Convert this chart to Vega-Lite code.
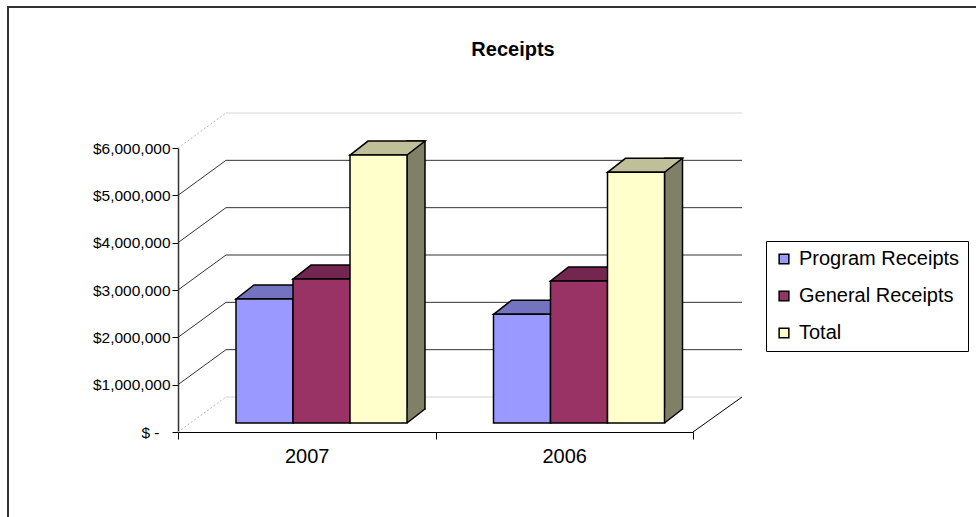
{
  "$schema": "https://vega.github.io/schema/vega-lite/v6.json",
  "autosize": "none",
  "width": 971,
  "height": 513,
  "padding": {"left": 8, "top": 7, "right": -3, "bottom": -3},
  "background": "white",
  "title": {"text": "Receipts", "fontSize": 20, "fontWeight": "bold", "font": "Liberation Sans", "color": "#000", "offset": -69, "baseline": "alphabetic", "anchor": "middle", "frame": "group", "dx": 19.5},
  "config": {
    "font": "Liberation Sans",
    "view": {"stroke": "#333", "strokeWidth": 2},
    "axis": {"labelColor": "#000", "labelFont": "Liberation Sans", "grid": false},
    "legend": {"orient": "none", "legendX": 758, "legendY": 234, "strokeColor": "#000", "strokeWidth": 1, "fillColor": "white", "padding": 8, "labelFontSize": 20, "labelLimit": 400, "labelFont": "Liberation Sans", "labelColor": "#000", "labelOffset": 5, "symbolType": "square", "symbolSize": 95, "symbolStrokeColor": "#000", "symbolStrokeWidth": 1.5, "rowPadding": 17}
  },
  "datasets": {
    "bars": [
      {"year": "2007", "series": "Program Receipts", "value": 2620000},
      {"year": "2007", "series": "General Receipts", "value": 3040000},
      {"year": "2007", "series": "Total", "value": 5660000},
      {"year": "2006", "series": "Program Receipts", "value": 2295000},
      {"year": "2006", "series": "General Receipts", "value": 3000000},
      {"year": "2006", "series": "Total", "value": 5295000}
    ],
    "grid": [{"v": 0}, {"v": 1000000}, {"v": 2000000}, {"v": 3000000}, {"v": 4000000}, {"v": 5000000}, {"v": 6000000}]
  },
  "resolve": {"scale": {"fill": "independent", "xOffset": "independent"}},
  "layer": [
    {
      "data": {"name": "grid"},
      "transform": [{"filter": "datum.v > 0 && datum.v < 6000000"}],
      "mark": {"type": "point", "shape": "M0,0L48,-35L564,-35", "size": 4, "filled": false, "fill": "transparent", "stroke": "#333", "strokeWidth": 1, "opacity": 1},
      "encoding": {
        "x": {"datum": "2007", "type": "nominal", "bandPosition": 0, "scale": {"domain": ["2007", "2006"], "range": [170, 685], "paddingInner": 0, "paddingOuter": 0}, "axis": {"title": null}},
        "y": {"field": "v", "type": "quantitative", "scale": {"domain": [0, 6000000], "range": [425, 141], "nice": false, "zero": true}, "axis": {"title": null}}
      }
    },
    {
      "data": {"name": "grid"},
      "transform": [{"filter": "datum.v == 0 || datum.v == 6000000"}],
      "mark": {"type": "point", "shape": "M0,0L48,-35", "size": 4, "filled": false, "fill": "transparent", "stroke": "#bbbbbb", "strokeWidth": 1, "strokeDash": [2, 2], "opacity": 1},
      "encoding": {
        "x": {"datum": "2007", "type": "nominal", "bandPosition": 0, "axis": {"title": null}},
        "y": {"field": "v", "type": "quantitative", "axis": {"title": null}}
      }
    },
    {
      "data": {"name": "grid"},
      "transform": [{"filter": "datum.v == 0 || datum.v == 6000000"}],
      "mark": {"type": "point", "shape": "M48,-35L564,-35", "size": 4, "filled": false, "fill": "transparent", "stroke": "#d4d4d4", "strokeWidth": 1, "opacity": 1},
      "encoding": {
        "x": {"datum": "2007", "type": "nominal", "bandPosition": 0, "axis": {"title": null}},
        "y": {"field": "v", "type": "quantitative", "axis": {"title": null}}
      }
    },
    {
      "data": {"name": "grid"},
      "transform": [{"filter": "datum.v == 0"}],
      "mark": {"type": "point", "shape": "M515,0L564,-35", "size": 4, "filled": false, "fill": "transparent", "stroke": "#000", "strokeWidth": 1, "opacity": 1},
      "encoding": {
        "x": {"datum": "2007", "type": "nominal", "bandPosition": 0, "axis": {"title": null}},
        "y": {"field": "v", "type": "quantitative", "axis": {"title": null}}
      }
    },
    {
      "data": {"name": "bars"},
      "mark": {"type": "bar", "stroke": "#000", "strokeWidth": 1.5, "yOffset": -23, "y2Offset": -23},
      "encoding": {
        "x": {"field": "year", "type": "nominal", "axis": {"title": null}},
        "xOffset": {"field": "series", "type": "nominal", "sort": ["Program Receipts", "General Receipts", "Total"], "scale": {"type": "band", "range": [115, 247], "paddingInner": 0.684, "paddingOuter": 0}},
        "y": {"field": "value", "type": "quantitative", "axis": {"title": null}},
        "y2": {"datum": 0},
        "fill": {"field": "series", "type": "nominal", "sort": ["Program Receipts", "General Receipts", "Total"], "scale": {"range": ["#4D4D80", "#4D1A33", "#808066"]}, "legend": null}
      }
    },
    {
      "data": {"name": "bars"},
      "mark": {"type": "point", "shape": "M28.5,0L46.5,-14L45.6,-14L45.6,-15.3L28.5,-15.3Z", "size": 4, "filled": true, "strokeWidth": 0, "yOffset": -9, "opacity": 1},
      "encoding": {
        "x": {"field": "year", "type": "nominal", "axis": {"title": null}},
        "xOffset": {"field": "series", "type": "nominal", "sort": ["Program Receipts", "General Receipts", "Total"], "scale": {"type": "band", "range": [58, 229], "paddingInner": 0, "paddingOuter": 0}},
        "y": {"datum": 0, "type": "quantitative", "axis": {"title": null}},
        "fill": {"field": "series", "type": "nominal", "sort": ["Program Receipts", "General Receipts", "Total"], "scale": {"range": ["#4D4D80", "#4D1A33", "#808066"]}, "legend": null}
      }
    },
    {
      "data": {"name": "bars"},
      "mark": {"type": "point", "shape": "M28.5,0L46.5,-14", "size": 4, "filled": false, "fill": "transparent", "stroke": "#000", "strokeWidth": 1.5, "yOffset": -9, "opacity": 1},
      "encoding": {
        "x": {"field": "year", "type": "nominal", "axis": {"title": null}},
        "xOffset": {"field": "series", "type": "nominal", "sort": ["Program Receipts", "General Receipts", "Total"], "scale": {"type": "band", "range": [58, 229], "paddingInner": 0, "paddingOuter": 0}},
        "y": {"datum": 0, "type": "quantitative", "axis": {"title": null}}
      }
    },
    {
      "data": {"name": "bars"},
      "mark": {"type": "point", "shape": "M-28.5,0L-10.5,-14L46.5,-14L28.5,0Z", "size": 4, "filled": true, "stroke": "#000", "strokeWidth": 1.5, "yOffset": -9, "opacity": 1},
      "encoding": {
        "x": {"field": "year", "type": "nominal", "axis": {"title": null}},
        "xOffset": {"field": "series", "type": "nominal", "sort": ["Program Receipts", "General Receipts", "Total"], "scale": {"type": "band", "range": [58, 229], "paddingInner": 0, "paddingOuter": 0}},
        "y": {"field": "value", "type": "quantitative", "axis": {"title": null}},
        "fill": {"field": "series", "type": "nominal", "sort": ["Program Receipts", "General Receipts", "Total"], "scale": {"range": ["#7373BF", "#732650", "#BFBF99"]}, "legend": null}
      }
    },
    {
      "data": {"name": "bars"},
      "mark": {"type": "bar", "stroke": "#000", "strokeWidth": 1.5, "yOffset": -9, "y2Offset": -9},
      "encoding": {
        "x": {"field": "year", "type": "nominal", "axis": {"title": null, "offset": -88, "tickBand": "extent", "tickSize": 7, "labelFontSize": 20, "labelPadding": 17, "labelAngle": 0, "labelAlign": "center", "domainColor": "#000", "tickColor": "#000", "domainWidth": 1, "tickWidth": 1}},
        "xOffset": {"field": "series", "type": "nominal", "sort": ["Program Receipts", "General Receipts", "Total"], "scale": {"type": "band", "range": [58, 229], "paddingInner": 0, "paddingOuter": 0}},
        "y": {"field": "value", "type": "quantitative", "axis": {"title": null, "offset": -170, "values": [0, 1000000, 2000000, 3000000, 4000000, 5000000, 6000000], "labelExpr": "datum.value === 0 ? '$ -' : format(datum.value, '$,.0f')", "tickSize": 6, "labelFontSize": 15.5, "labelPadding": {"condition": {"test": "datum.value === 0", "value": 13}, "value": 2}, "domainColor": "#333", "tickColor": "#000", "domainWidth": 1.5}},
        "y2": {"datum": 0},
        "fill": {"field": "series", "type": "nominal", "sort": ["Program Receipts", "General Receipts", "Total"], "scale": {"range": ["#9999FF", "#993366", "#FFFFCC"]}, "legend": {"title": null}}
      }
    }
  ]
}
